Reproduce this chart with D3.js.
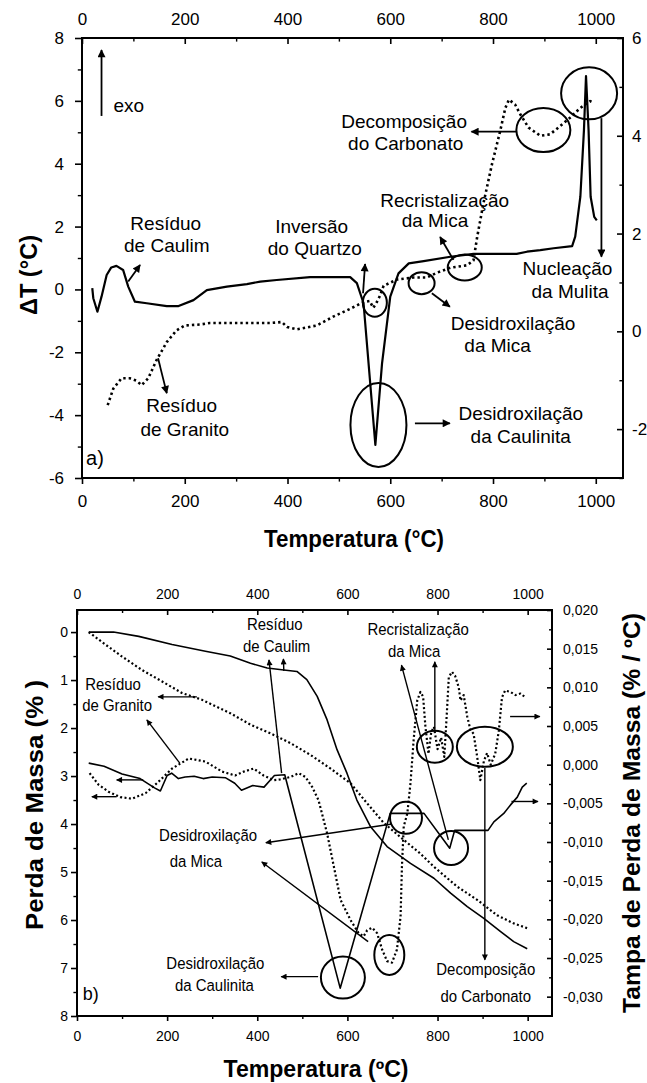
<!DOCTYPE html>
<html>
<head>
<meta charset="utf-8">
<script src="https://cdn.jsdelivr.net/npm/d3@7"></script>
<style>
  body { margin: 0; background: #fff; }
  svg { display: block; }
  text { font-family: "Liberation Sans", Arial, sans-serif; fill: #000; }
</style>
</head>
<body>
<svg id="chart" width="647" height="1083"></svg>
<script>
// ---------- panel a) DTA : [temperature, value] ----------
// residuo de caulim, left axis (deltaT)
var dtaCaulim = [[20,0.04],[22,-0.28],[30,-0.71],[38,-0.23],[48,0.46],[57,0.70],[67,0.75],[80,0.62],[90,0.09],
  [103,-0.39],[126,-0.44],[165,-0.53],[188,-0.53],[217,-0.34],[243,-0.02],[282,0.09],[321,0.17],[347,0.25],
  [379,0.30],[444,0.39],[522,0.39],[535,0.20],[548,-0.44],[571,-4.95],[584,-2.35],[600,-0.23],[616,0.51],
  [636,0.83],[665,0.90],[717,1.04],[762,1.13],[846,1.13],[866,1.20],[892,1.25],[918,1.31],[954,1.38],
  [960,1.68],[970,2.95],[977,5.07],[981,6.79],[986,5.07],[990,2.95],[997,2.31],[1002,2.20]];
// residuo de granito, right axis
var dtaGranito = [[50,-1.51],[61,-1.17],[77,-0.96],[93,-0.96],[106,-1.01],[116,-1.10],[129,-0.96],[145,-0.59],
  [165,-0.22],[184,0.02],[200,0.12],[230,0.14],[249,0.17],[327,0.17],[366,0.17],[389,0.19],[399,0.09],
  [418,0.04],[457,0.12],[489,0.30],[522,0.46],[548,0.60],[560,0.62],[567,0.48],[574,0.60],[580,0.73],
  [587,0.93],[613,1.06],[645,1.10],[671,1.10],[691,1.20],[717,1.30],[723,1.31],[749,1.35],[762,1.45],
  [769,1.92],[781,2.60],[798,3.42],[814,4.10],[824,4.57],[831,4.74],[843,4.64],[853,4.44],[869,4.17],
  [892,4.00],[911,4.03],[931,4.20],[950,4.37],[970,4.57],[989,4.71],[997,4.67]];

// ---------- panel b) TG (left) and DTG (right) ----------
var tgCaulim = [[26,0],[81,0],[137,0.09],[211,0.26],[285,0.40],[340,0.50],[385,0.65],[422,0.75],[459,0.79],
  [488,0.82],[510,0.99],[533,1.34],[555,1.83],[577,2.45],[599,2.94],[621,3.50],[651,4.05],[688,4.47],
  [740,4.82],[792,5.13],[829,5.44],[866,5.72],[902,5.96],[940,6.24],[969,6.45],[999,6.60]];
var tgGranito = [[26,0],[63,0.26],[100,0.51],[144,0.79],[189,1.03],[233,1.27],[277,1.41],[340,1.69],
  [385,1.93],[429,2.11],[473,2.31],[518,2.56],[562,2.84],[607,3.15],[644,3.57],[681,3.98],[725,4.33],
  [760,4.60],[792,4.89],[843,5.30],[888,5.58],[932,5.90],[969,6.07],[999,6.17]];
var dtgCaulim = [[26,0.0002],[60,-0.0002],[100,-0.0012],[140,-0.0018],[172,-0.0030],[185,-0.0034],
  [200,-0.0014],[210,-0.0011],[225,-0.0018],[240,-0.0016],[260,-0.0015],[280,-0.0018],[300,-0.0016],
  [330,-0.0017],[350,-0.0024],[365,-0.0033],[390,-0.0027],[415,-0.0029],[438,-0.0014],[461,-0.0013],
  [584,-0.0289],[695,-0.0063],[770,-0.0063],[827,-0.0108],[838,-0.0085],[912,-0.0085],[925,-0.0074],
  [947,-0.0063],[962,-0.0052],[977,-0.0042],[988,-0.0029],[998,-0.0024]];
var dtgGranito = [[28,-0.0011],[48,-0.0026],[70,-0.0035],[96,-0.0042],[122,-0.0044],[152,-0.0037],
  [181,-0.0022],[211,-0.0005],[248,0.0008],[285,0.0004],[322,-0.0009],[351,-0.0014],[370,-0.0009],
  [392,-0.0005],[414,-0.0014],[436,-0.0020],[451,-0.0019],[473,-0.0016],[492,-0.0011],[507,-0.0016],
  [522,-0.0029],[536,-0.0046],[555,-0.0089],[570,-0.0132],[585,-0.0175],[607,-0.0201],[625,-0.0218],
  [636,-0.0222],[644,-0.0214],[655,-0.0211],[666,-0.0218],[677,-0.0239],[688,-0.0254],[699,-0.0256],
  [710,-0.0239],[718,-0.0196],[721,-0.0132],[725,-0.0080],[733,-0.0063],[740,-0.0024],[747,0.0032],
  [755,0.0083],[762,0.0094],[768,0.0088],[773,0.0050],[780,0.0014],[786,0.0042],[792,0.0049],
  [800,0.0020],[808,0.0035],[815,0.0010],[820,0.0060],[825,0.0113],[832,0.0120],[839,0.0115],
  [847,0.0100],[851,0.0083],[858,0.0090],[866,0.0062],[873,0.0045],[880,0.0040],[888,0.0010],
  [895,-0.0020],[903,0.0005],[910,0.0015],[918,0.0000],[928,0.0014],[936,0.0044],[943,0.0087],
  [950,0.0096],[962,0.0094],[973,0.0090],[984,0.0092],[995,0.0087]];

// ---------- ticks ----------
var tempTicks = [0, 200, 400, 600, 800, 1000];
var tempMinor = [100, 300, 500, 700, 900];
var dtaLeftTicks = [-6, -4, -2, 0, 2, 4, 6, 8];
var dtaLeftMinor = [-5, -3, -1, 1, 3, 5, 7];
var dtaRightTicks = [-2, 0, 2, 4, 6];
var dtaRightMinor = [-3, -1, 1, 3, 5];
var massTicks = [0, 1, 2, 3, 4, 5, 6, 7, 8];
var massMinor = [0.5, 1.5, 2.5, 3.5, 4.5, 5.5, 6.5, 7.5];
var rateTicks = [-0.030, -0.025, -0.020, -0.015, -0.010, -0.005, 0, 0.005, 0.010, 0.015, 0.020];
var rateMinor = [-0.0275, -0.0225, -0.0175, -0.0125, -0.0075, -0.0025, 0.0025, 0.0075, 0.0125, 0.0175];

// ---------- annotations (in data units) ----------
var labelsA = [
  [163, 1.89, "Resíduo"], [165, 1.20, "de Caulim"],
  [194, -3.89, "Resíduo"], [200, -4.66, "de Granito"],
  [447, 1.80, "Inversão"], [453, 1.10, "do Quartzo"],
  [627, 5.13, "Decomposição"], [630, 4.44, "do Carbonato"],
  [706, 2.63, "Recristalização"], [687, 2.00, "da Mica"],
  [839, -1.29, "Desidroxilação"], [809, -1.98, "da Mica"],
  [945, 0.46, "Nucleação"], [950, -0.28, "da Mulita"],
  [854, -4.15, "Desidroxilação"], [854, -4.89, "da Caulinita"]
];
var arrowsA = [
  [38, 5.52, 38, 7.62], [90, 0.25, 113, 0.78], [148, -2.19, 165, -3.30],
  [547, -0.12, 551, 0.81], [846, 5.02, 758, 5.02], [723, 0.94, 697, 1.67],
  [681, -0.12, 716, -0.55], [648, -4.26, 716, -4.26], [1011, 5.45, 1011, 1.04]
];
var circlesA = [
  [570, -0.42, 12, 14], [661, 0.20, 13, 11], [745, 0.70, 17, 13],
  [577, -4.31, 28, 42], [898, 5.07, 27, 22], [987, 6.24, 28, 26]
];
var labelsB = [
  [439, -0.04, "Resíduo"], [443, 0.41, "de Caulim"],
  [757, 0.06, "Recristalização"], [748, 0.51, "da Mica"],
  [80, 1.21, "Resíduo"], [89, 1.64, "de Granito"],
  [291, 4.35, "Desidroxilação"], [264, 4.89, "da Mica"],
  [307, 7.02, "Desidroxilação"], [305, 7.48, "da Caulinita"],
  [907, 7.15, "Decomposição"], [907, 7.71, "do Carbonato"]
];
var arrowsB = [
  [454, 2.94, 426, 0.58], [459, 0.81, 458, 0.56], [824, 4.33, 720, 0.69],
  [794, 2.06, 794, 0.62], [266, 1.35, 180, 1.35], [228, 2.73, 155, 1.83],
  [147, 3.08, 88, 3.08], [88, 3.43, 33, 3.43], [961, 1.76, 1027, 1.76],
  [964, 3.53, 1023, 3.53], [699, 4.00, 419, 4.39], [646, 6.45, 410, 4.79],
  [535, 7.18, 453, 7.18], [905, 2.83, 905, 6.83]
];
var circlesB = [
  [730, 3.87, 16, 16], [693, 6.73, 15, 20], [590, 7.20, 22, 21],
  [830, 4.50, 17, 17], [794, 2.39, 18, 16], [905, 2.39, 28, 20]
];

// ---------- scales ----------
var xA = d3.scaleLinear().domain([0, 1053]).range([82, 623]);
var yA = d3.scaleLinear().domain([-6, 8]).range([478, 38]);
var yA2 = d3.scaleLinear().domain([-3, 6]).range([478, 38]);
var xB = d3.scaleLinear().domain([0, 1054]).range([77, 552]);
var yB = d3.scaleLinear().domain([-0.46, 8]).range([610, 1016]);
var yB2 = d3.scaleLinear().domain([-0.0325, 0.020]).range([1016, 610]);

var svg = d3.select("#chart");

// arrow heads
var defs = svg.append("defs");
[["head", 11, 8], ["headS", 9, 6]].forEach(function(m) {
  defs.append("marker")
      .attr("id", m[0])
      .attr("viewBox", "0 0 10 10")
      .attr("refX", 9).attr("refY", 5)
      .attr("markerWidth", m[1]).attr("markerHeight", m[2])
      .attr("markerUnits", "userSpaceOnUse")
      .attr("orient", "auto")
    .append("path")
      .attr("d", "M0,0L10,5L0,10z")
      .attr("fill", "#000");
});

// one axis side with major + minor ticks
function addAxis(orient, scale, pos, major, minor, fmt, size, pad, fs) {
  var make = {top: d3.axisTop, bottom: d3.axisBottom, left: d3.axisLeft, right: d3.axisRight}[orient];
  var horiz = (orient === "top" || orient === "bottom");
  var tr = horiz ? "translate(0," + pos + ")" : "translate(" + pos + ",0)";

  var g = svg.append("g").attr("transform", tr)
      .call(make(scale).tickValues(major).tickFormat(fmt).tickSize(size).tickPadding(pad));
  g.select(".domain").remove();
  g.selectAll("line").attr("stroke", "#000").attr("stroke-width", 1.6);
  g.selectAll("text").style("font-size", fs + "px").style("font-family", '"Liberation Sans", Arial, sans-serif');

  var m = svg.append("g").attr("transform", tr)
      .call(make(scale).tickValues(minor).tickFormat("").tickSize(size * 0.6));
  m.select(".domain").remove();
  m.selectAll("line").attr("stroke", "#000").attr("stroke-width", 1.4);
}

function drawPanel(x, y, y2, sets, ann) {
  var xr = x.range(), yr = y.range();
  var top = Math.min(yr[0], yr[1]), bot = Math.max(yr[0], yr[1]);

  sets.forEach(function(s) {
    var ys = s.right ? y2 : y;
    var line = d3.line()
      .x(function(d) { return x(d[0]); })
      .y(function(d) { return ys(d[1]); });
    svg.append("path")
        .datum(s.data)
        .attr("d", line)
        .attr("fill", "none")
        .attr("stroke", "#000")
        .attr("stroke-width", s.dotted ? ann.dotW : ann.solidW)
        .attr("stroke-dasharray", s.dotted ? ann.dash : null)
        .attr("stroke-linejoin", "round");
  });

  // callout circles
  svg.selectAll(null)
    .data(ann.circles)
    .enter().append("ellipse")
      .attr("cx", function(d) { return x(d[0]); })
      .attr("cy", function(d) { return y(d[1]); })
      .attr("rx", function(d) { return d[2]; })
      .attr("ry", function(d) { return d[3]; })
      .attr("fill", "none")
      .attr("stroke", "#000")
      .attr("stroke-width", 2);

  // arrows
  svg.selectAll(null)
    .data(ann.arrows)
    .enter().append("line")
      .attr("x1", function(d) { return x(d[0]); })
      .attr("y1", function(d) { return y(d[1]); })
      .attr("x2", function(d) { return x(d[2]); })
      .attr("y2", function(d) { return y(d[3]); })
      .attr("stroke", "#000")
      .attr("stroke-width", ann.arrowW)
      .attr("marker-end", "url(#" + ann.head + ")");

  // labels
  svg.selectAll(null)
    .data(ann.labels)
    .enter().append("text")
      .attr("transform", function(d) {
        return "translate(" + x(d[0]) + "," + y(d[1]) + ") scale(" + ann.squeeze + ",1)";
      })
      .attr("text-anchor", "middle")
      .style("font-size", ann.fs + "px")
      .text(function(d) { return d[2]; });

  // frame
  svg.append("rect")
      .attr("x", xr[0]).attr("y", top)
      .attr("width", xr[1] - xr[0]).attr("height", bot - top)
      .attr("fill", "none")
      .attr("stroke", "#000")
      .attr("stroke-width", 2);
}

// ===== panel a =====
drawPanel(xA, yA, yA2, [
  {data: dtaCaulim, right: false, dotted: false},
  {data: dtaGranito, right: true, dotted: true}
], {labels: labelsA, arrows: arrowsA, circles: circlesA, fs: 19, squeeze: 1,
    solidW: 2.2, dotW: 2.6, dash: "2.4,3", arrowW: 1.8, head: "head"});

addAxis("bottom", xA, 478, tempTicks, tempMinor, String, 6, 11, 17);
addAxis("top", xA, 38, tempTicks, tempMinor, String, -6, 13, 17);
addAxis("left", yA, 82, dtaLeftTicks, dtaLeftMinor, String, 7, 11, 17);
addAxis("right", yA2, 623, dtaRightTicks, dtaRightMinor, String, -6, 9, 17);

svg.append("text")
    .attr("x", xA(38) + 12).attr("y", yA(5.66))
    .style("font-size", "19px")
    .text("exo");
svg.append("text")
    .attr("x", xA(8)).attr("y", yA(-5.59))
    .style("font-size", "20px")
    .text("a)");

svg.append("text")
    .attr("x", 354).attr("y", 547)
    .attr("text-anchor", "middle")
    .attr("textLength", 180).attr("lengthAdjust", "spacingAndGlyphs")
    .style("font-size", "24px").style("font-weight", "bold")
    .text("Temperatura (\u00B0C)");

svg.append("text")
    .attr("transform", "translate(37,275) rotate(-90)")
    .attr("text-anchor", "middle")
    .attr("textLength", 80).attr("lengthAdjust", "spacingAndGlyphs")
    .style("font-size", "24px").style("font-weight", "bold")
    .text("\u0394T (\u00B0C)");

// ===== panel b =====
drawPanel(xB, yB, yB2, [
  {data: tgCaulim, right: false, dotted: false},
  {data: tgGranito, right: false, dotted: true},
  {data: dtgCaulim, right: true, dotted: false},
  {data: dtgGranito, right: true, dotted: true}
], {labels: labelsB, arrows: arrowsB, circles: circlesB, fs: 17, squeeze: 0.88,
    solidW: 1.6, dotW: 2.2, dash: "2,2.4", arrowW: 1.4, head: "headS"});

var comma = function(d) { return d.toFixed(3).replace(".", ","); };
addAxis("bottom", xB, 1016, tempTicks, tempMinor, String, 5, 10, 14);
addAxis("top", xB, 610, tempTicks, tempMinor, String, -5, 11, 14);
addAxis("left", yB, 77, massTicks, massMinor, String, 6, 3, 14);
addAxis("right", yB2, 552, rateTicks, rateMinor, comma, -5, 11, 14);

svg.append("text")
    .attr("x", xB(13)).attr("y", yB(7.67))
    .style("font-size", "18px")
    .text("b)");

svg.append("text")
    .attr("x", 316).attr("y", 1077)
    .attr("text-anchor", "middle")
    .attr("textLength", 185).attr("lengthAdjust", "spacingAndGlyphs")
    .style("font-size", "23px").style("font-weight", "bold")
    .text("Temperatura (ºC)");
svg.append("text")
    .attr("transform", "translate(43,805) rotate(-90)")
    .attr("text-anchor", "middle")
    .attr("textLength", 250).attr("lengthAdjust", "spacingAndGlyphs")
    .style("font-size", "24px").style("font-weight", "bold")
    .text("Perda de Massa (% )");
svg.append("text")
    .attr("transform", "translate(640,813) rotate(-90)")
    .attr("text-anchor", "middle")
    .attr("textLength", 400).attr("lengthAdjust", "spacingAndGlyphs")
    .style("font-size", "23px").style("font-weight", "bold")
    .text("Tampa de Perda de Massa (% / ºC)");
</script>
</body>
</html>
